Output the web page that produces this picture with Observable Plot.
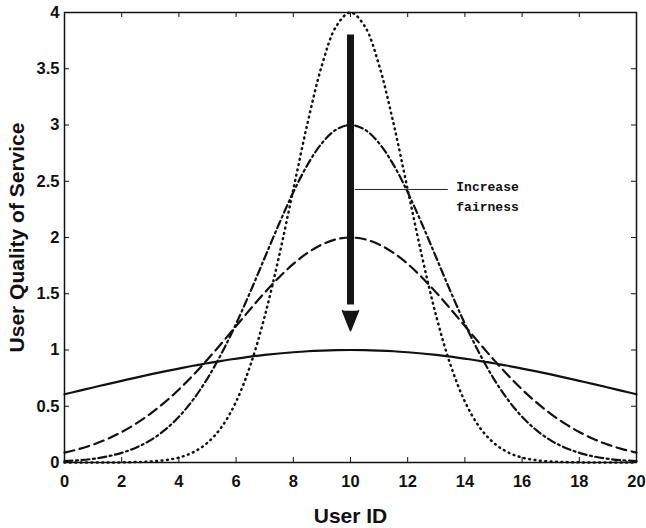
<!DOCTYPE html>
<html>
<head>
<meta charset="utf-8">
<script src="https://cdn.jsdelivr.net/npm/d3@7"></script>
<script src="https://cdn.jsdelivr.net/npm/@observablehq/plot@0.6"></script>
<style>
  html, body { margin: 0; padding: 0; background: #fff; }
</style>
</head>
<body>
<div id="chart"></div>
<script>
// ---- data ----
const userId = [0,0.5,1,1.5,2,2.5,3,3.5,4,4.5,5,5.5,6,6.5,7,7.5,8,8.5,9,9.5,10,
  10.5,11,11.5,12,12.5,13,13.5,14,14.5,15,15.5,16,16.5,17,17.5,18,18.5,19,19.5,20];

const qosSolid = [0.607,0.637,0.667,0.697,0.726,0.755,0.783,0.810,0.835,0.860,0.882,0.904,0.923,0.941,0.956,0.969,0.980,0.989,0.995,0.999,1.000,
  0.999,0.995,0.989,0.980,0.969,0.956,0.941,0.923,0.904,0.882,0.860,0.835,0.810,0.783,0.755,0.726,0.697,0.667,0.637,0.607];

const qosDashed = [0.088,0.119,0.159,0.209,0.271,0.345,0.433,0.534,0.649,0.777,0.916,1.062,1.213,1.364,1.510,1.645,1.765,1.864,1.938,1.984,2.000,
  1.984,1.938,1.864,1.765,1.645,1.510,1.364,1.213,1.062,0.916,0.777,0.649,0.534,0.433,0.345,0.271,0.209,0.159,0.119,0.088];

const qosDashDot = [0.012,0.020,0.033,0.054,0.086,0.132,0.197,0.287,0.406,0.559,0.748,0.974,1.233,1.519,1.820,2.120,2.402,2.648,2.838,2.959,3.000,
  2.959,2.838,2.648,2.402,2.120,1.820,1.519,1.233,0.974,0.748,0.559,0.406,0.287,0.197,0.132,0.086,0.054,0.033,0.020,0.012];

const qosDotted = [0,0,0,0,0.001,0.004,0.009,0.020,0.044,0.091,0.176,0.318,0.541,0.865,1.299,1.831,2.426,3.019,3.530,3.877,4.000,
  3.877,3.530,3.019,2.426,1.831,1.299,0.865,0.541,0.318,0.176,0.091,0.044,0.020,0.009,0.004,0.001,0,0,0,0];

const xTicks = [0,2,4,6,8,10,12,14,16,18,20];
const yTicks = [0,0.5,1,1.5,2,2.5,3,3.5,4];
const yTickLabels = ["0","0.5","1","1.5","2","2.5","3","3.5","4"];

const xLabel = "User ID";
const yLabel = "User Quality of Service";

// annotation: arrow and label
const arrowX = [10];
const arrowTopY = [3.8];
const arrowBaseY = [1.35];
const noteLineY = [2.427];
const noteLineX = [10.17, 13.42];
const noteX = [13.7];
const noteY = [2.384];
const noteText = ["Increase\nfairness"];

// ---- build ----
const rows = userId.map((x, i) => ({x, s1: qosSolid[i], s2: qosDashed[i], s3: qosDashDot[i], s4: qosDotted[i]}));

const W = 646, H = 528, ML = 64, MR = 10, MT = 12, MB = 66;
const frameW = W - ML - MR, frameH = H - MT - MB, tickLen = 5;
const ink = "#111";

const chart = Plot.plot({
  width: W, height: H,
  marginLeft: ML, marginRight: MR, marginTop: MT, marginBottom: MB,
  x: {domain: [0, 20]},
  y: {domain: [0, 4]},
  style: {fontFamily: "'Liberation Sans', Arial, sans-serif", fontWeight: "bold", background: "#fff", color: ink},
  marks: [
    Plot.line(rows, {x: "x", y: "s1", stroke: ink, strokeWidth: 2.2, curve: "catmull-rom"}),
    Plot.line(rows, {x: "x", y: "s2", stroke: ink, strokeWidth: 2.2, strokeDasharray: "10,5.5", curve: "catmull-rom"}),
    Plot.line(rows, {x: "x", y: "s3", stroke: ink, strokeWidth: 2.2, strokeDasharray: "8,3.5,2,3.5", curve: "catmull-rom"}),
    Plot.line(rows, {x: "x", y: "s4", stroke: ink, strokeWidth: 2.5, strokeDasharray: "0.8,4.6", strokeLinecap: "round", curve: "catmull-rom"}),

    // inward ticks on all four sides
    Plot.tickX(xTicks, {x: d => d, insetTop: frameH - tickLen, stroke: ink, strokeWidth: 1}),
    Plot.tickX(xTicks, {x: d => d, insetBottom: frameH - tickLen, stroke: ink, strokeWidth: 1}),
    Plot.tickY(yTicks, {y: d => d, insetRight: frameW - tickLen, stroke: ink, strokeWidth: 1}),
    Plot.tickY(yTicks, {y: d => d, insetLeft: frameW - tickLen, stroke: ink, strokeWidth: 1}),
    Plot.frame({stroke: ink, strokeWidth: 1.5}),

    Plot.axisX({ticks: xTicks, tickSize: 0, tickPadding: 13, fontSize: 16.5, fontWeight: "bold", label: null}),
    Plot.axisY({ticks: yTicks, tickSize: 0, tickPadding: 5, fontSize: 16.5, fontWeight: "bold", label: null,
      tickFormat: d => yTickLabels[yTicks.indexOf(d)]}),

    Plot.text([xLabel], {x: () => 10, y: () => 0, dy: 54, fontSize: 21, fontWeight: "bold", fill: ink}),
    Plot.text([yLabel], {x: () => 0, y: () => 2, dx: -47.5, rotate: -90, fontSize: 21, fontWeight: "bold", fill: ink}),

    // arrow
    Plot.ruleX(arrowX, {x: d => d, y1: () => arrowTopY[0], y2: () => arrowBaseY[0] + 0.05, stroke: "#141414", strokeWidth: 7}),
    Plot.vector(arrowX, {x: d => d, y: () => arrowBaseY[0], length: 20, rotate: 180, anchor: "start",
      shape: "spike", r: 8, fill: "#141414", stroke: "#141414", strokeWidth: 1.5, strokeLinejoin: "round"}),

    // annotation
    Plot.ruleY(noteLineY, {y: d => d, x1: () => noteLineX[0], x2: () => noteLineX[1], stroke: "#222", strokeWidth: 1}),
    Plot.text(noteText, {x: () => noteX[0], y: () => noteY[0], textAnchor: "start",
      fontFamily: "'Liberation Mono', 'Courier New', monospace", fontWeight: "bold", fontSize: 13, lineHeight: 1.54, fill: ink})
  ]
});

document.getElementById("chart").appendChild(chart);
</script>
</body>
</html>
